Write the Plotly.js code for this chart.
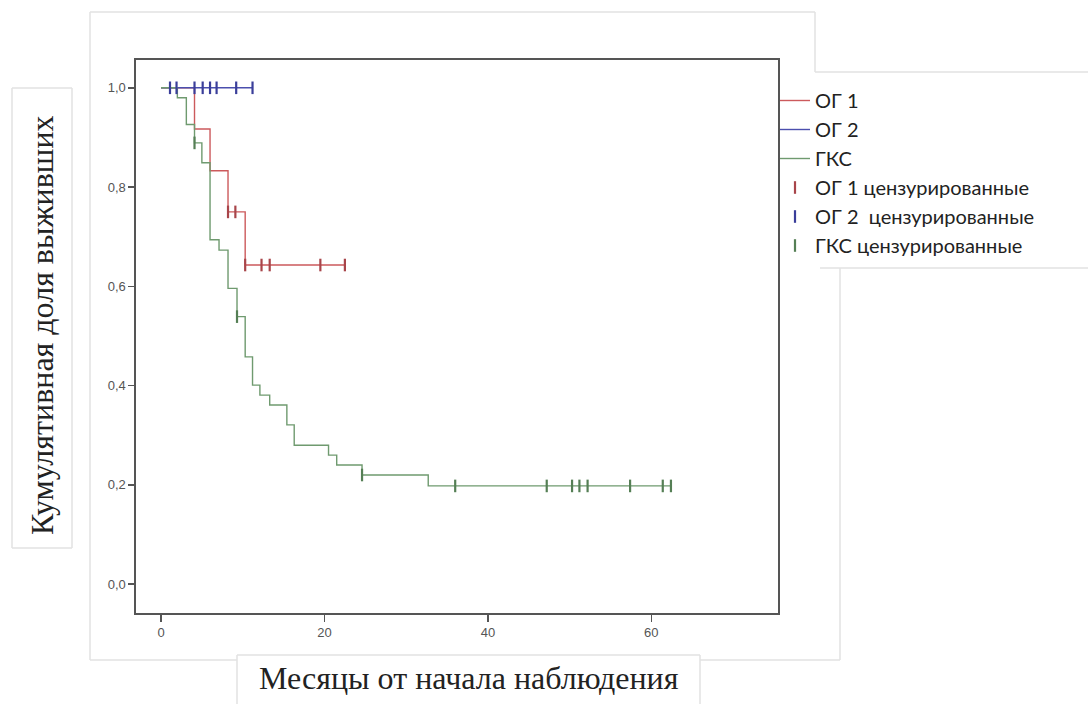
<!DOCTYPE html>
<html>
<head>
<meta charset="utf-8">
<script src="https://cdn.plot.ly/plotly-3.0.1.min.js"></script>
<style>html,body{margin:0;padding:0;background:#fff;}#chart{width:1088px;height:704px;}</style>
</head>
<body>
<div id="chart"></div>
<script>
// ---- data ----
var seriesNames = ["ОГ 1", "ОГ 2", "ГКС"];
var censNames = ["ОГ 1 цензурированные", "ОГ 2  цензурированные", "ГКС цензурированные"];

var og1Time = [0, 4.1, 6.0, 8.2, 10.3, 22.5];
var og1Surv = [1.0, 0.917, 0.833, 0.75, 0.643, 0.643];
var og1CensTime = [8.2, 9.1, 10.3, 12.3, 13.3, 19.5, 22.5];
var og1CensSurv = [0.75, 0.75, 0.643, 0.643, 0.643, 0.643, 0.643];

var og2Time = [0, 11.2];
var og2Surv = [1.0, 1.0];
var og2CensTime = [1.1, 1.9, 4.1, 5.1, 6.0, 6.8, 9.2, 11.2];
var og2CensSurv = [1, 1, 1, 1, 1, 1, 1, 1];

var gksTime = [0, 2.0, 3.1, 4.1, 5.0, 6.0, 7.1, 8.2, 9.3, 10.3, 11.2, 12.1, 13.3, 15.4, 16.3, 20.5, 21.5, 24.6, 32.7, 62.4];
var gksSurv = [1.0, 0.98, 0.926, 0.889, 0.849, 0.694, 0.673, 0.596, 0.539, 0.458, 0.401, 0.381, 0.361, 0.321, 0.28, 0.26, 0.24, 0.22, 0.198, 0.198];
var gksCensTime = [4.1, 9.3, 24.6, 36.0, 47.2, 50.3, 51.2, 52.2, 57.4, 61.4, 62.4];
var gksCensSurv = [0.889, 0.539, 0.22, 0.198, 0.198, 0.198, 0.198, 0.198, 0.198, 0.198, 0.198];

var xTicks = [0, 20, 40, 60];
var yTicks = [0, 0.2, 0.4, 0.6, 0.8, 1.0];

var xTitle = "Месяцы от начала наблюдения";
var yTitle = "Кумулятивная доля выживших";

// ---- styling ----
var colRed = "#cc5a5c", colBlue = "#4b4fae", colGreen = "#6f9a6f";
var censRed = "#a8454a", censBlue = "#3a3e9a", censGreen = "#557f55";

function stepTrace(t, s, name, col, grp) {
  return {x: t, y: s, name: name, legendgroup: grp, type: "scatter", mode: "lines",
    line: {shape: "hv", color: col, width: 1.4}, hoverinfo: "x+y"};
}
function censTrace(t, s, name, col, grp) {
  return {x: t, y: s, name: name, legendgroup: grp, type: "scatter", mode: "markers",
    marker: {symbol: "line-ns", size: 9, line: {color: col, width: 2.2}, color: col}};
}

var data = [
  stepTrace(og1Time, og1Surv, seriesNames[0], colRed, "a"),
  stepTrace(og2Time, og2Surv, seriesNames[1], colBlue, "b"),
  stepTrace(gksTime, gksSurv, seriesNames[2], colGreen, "c"),
  censTrace(og1CensTime, og1CensSurv, censNames[0], censRed, "d"),
  censTrace(og2CensTime, og2CensSurv, censNames[1], censBlue, "e"),
  censTrace(gksCensTime, gksCensSurv, censNames[2], censGreen, "f")
];

// pixel helpers for decorative boxes (plot area: l=136, r=778, t=60, b=613)
function px(x) { return (x - 136) / 642; }
function py(y) { return (613 - y) / 553; }
var boxCol = "#e2e2e2";
function seg(x0, y0, x1, y1) {
  return {type: "line", xref: "paper", yref: "paper", x0: px(x0), y0: py(y0), x1: px(x1), y1: py(y1),
    line: {color: boxCol, width: 1.5}, layer: "below"};
}

var layout = {
  width: 1088, height: 704,
  margin: {l: 136, r: 310, t: 60, b: 91},
  paper_bgcolor: "#ffffff", plot_bgcolor: "#ffffff",
  separators: ", ",
  showlegend: true,
  legend: {x: px(775), y: py(81), xanchor: "left", yanchor: "top",
    font: {family: "Lato, 'Open Sans', sans-serif", size: 20, color: "#222"},
    bgcolor: "rgba(0,0,0,0)", tracegroupgap: 0, itemwidth: 30},
  xaxis: {range: [-3.06, 75.5], tickvals: xTicks, ticks: "outside", ticklen: 7, tickwidth: 1.5,
    tickcolor: "#555", showline: true, mirror: true, linecolor: "#555", linewidth: 1.6,
    showgrid: false, zeroline: false,
    tickfont: {family: "'Liberation Sans Narrow', 'Arial Narrow', sans-serif", size: 13, color: "#555"}},
  yaxis: {range: [-0.058, 1.056], tickvals: yTicks, tickformat: ".1f", ticks: "outside", ticklen: 6, tickwidth: 1.5,
    tickcolor: "#555", showline: true, mirror: true, linecolor: "#555", linewidth: 1.6,
    showgrid: false, zeroline: false,
    tickfont: {family: "'Liberation Sans Narrow', 'Arial Narrow', sans-serif", size: 13, color: "#555"}},
  annotations: [
    {text: yTitle, xref: "paper", yref: "paper", x: px(42), y: py(325), textangle: -90,
      showarrow: false, xanchor: "center", yanchor: "middle",
      font: {family: "'Liberation Serif', 'DejaVu Serif', serif", size: 32, color: "#222"}},
    {text: xTitle, xref: "paper", yref: "paper", x: px(469), y: py(678),
      showarrow: false, xanchor: "center", yanchor: "middle",
      font: {family: "'Liberation Serif', 'DejaVu Serif', serif", size: 32, color: "#222"}}
  ],
  shapes: [
    // outer chart frame (light)
    seg(90, 12, 815, 12), seg(815, 12, 815, 72), seg(815, 72, 1088, 72),
    seg(90, 12, 90, 660), seg(90, 660, 237, 660), seg(700, 660, 840, 660),
    seg(820, 268, 1088, 268), seg(840, 268, 840, 660),
    // y title box
    seg(12, 88, 72, 88), seg(72, 88, 72, 548), seg(12, 548, 72, 548), seg(12, 88, 12, 548),
    // x title box
    seg(237, 655, 700, 655), seg(237, 655, 237, 704), seg(700, 655, 700, 704)
  ]
};

Plotly.newPlot("chart", data, layout, {displayModeBar: false, staticPlot: true});
</script>
</body>
</html>
